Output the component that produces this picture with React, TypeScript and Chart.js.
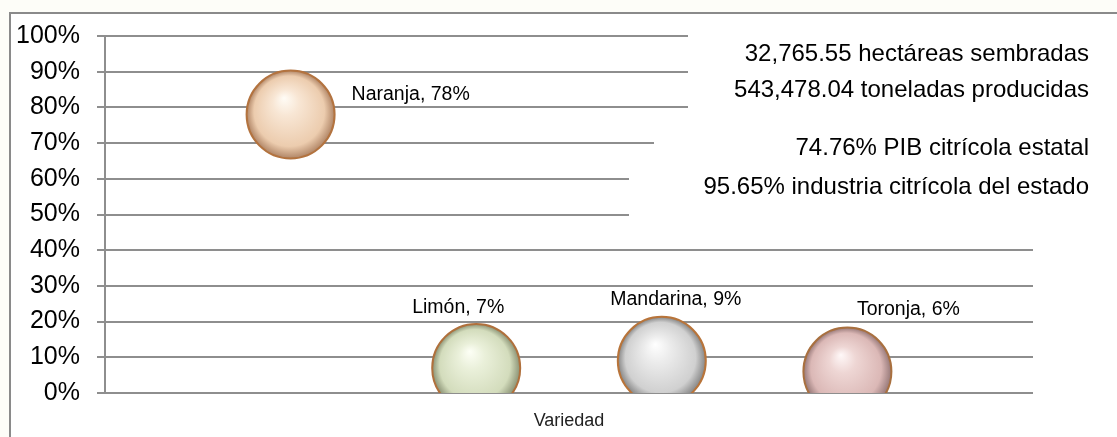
import React, { useEffect, useRef } from "react";
import { Chart, registerables } from "chart.js";

Chart.register(...registerables);

// ---- data ----
const categories = ["Naranja", "Limón", "Mandarina", "Toronja"];
const xPositions = [1, 2, 3, 4];
const shares = [78, 7, 9, 6];
const yTicks = [0, 10, 20, 30, 40, 50, 60, 70, 80, 90, 100];
const infoLines = [
  "32,765.55 hectáreas sembradas",
  "543,478.04 toneladas producidas",
  "74.76% PIB citrícola estatal",
  "95.65% industria citrícola del estado",
];
const axisTitle = "Variedad";

// ---- styles ----
const FONT = "'Liberation Sans', Arial, Helvetica, sans-serif";
const GRID = "#8e8e8e";
const sphereColors = [
  ["#fffcf6", "#f8e6d4", "#ecccae", "#b08566"],
  ["#fdfff6", "#eaf0da", "#d3dcbc", "#8a9274"],
  ["#ffffff", "#ececec", "#d0d0d0", "#858585"],
  ["#fff8f8", "#eed6d4", "#dbb8b6", "#967878"],
];
const rimColors = ["#b3733f", "#b0703c", "#b8743a", "#a9703f"];
// label offsets relative to bubble centre [dx, dy, align]
const labelOffsets: [number, number, CanvasTextAlign][] = [
  [61, -20, "left"],
  [-18, -60, "center"],
  [14, -61, "center"],
  [61, -62, "center"],
];
// white boxes of the text annotations: [x, y, w, h]
const infoBoxes = [
  [688, 28, 430, 86],
  [654, 128, 464, 34],
  [629, 166, 489, 64],
];
const infoY = [54, 90, 148, 187];

const framePlugin = {
  id: "frame",
  beforeDraw(chart: any) {
    const { ctx, width, height } = chart;
    ctx.save();
    ctx.fillStyle = "#fdfdf8";
    ctx.fillRect(0, 0, width, height);
    ctx.fillStyle = "#ffffff";
    ctx.fillRect(10, 13, width - 10, height - 13);
    ctx.strokeStyle = "#8a8a8a";
    ctx.lineWidth = 2;
    ctx.beginPath();
    ctx.moveTo(10, height);
    ctx.lineTo(10, 13);
    ctx.lineTo(width, 13);
    ctx.stroke();
    ctx.restore();
  },
};

const infoPlugin = {
  id: "info",
  beforeDatasetsDraw(chart: any) {
    const { ctx } = chart;
    ctx.save();
    ctx.fillStyle = "#ffffff";
    infoBoxes.forEach(([x, y, w, h]) => ctx.fillRect(x, y, w, h));
    ctx.fillStyle = "#000000";
    ctx.font = `24px ${FONT}`;
    ctx.textAlign = "right";
    ctx.textBaseline = "middle";
    infoLines.forEach((t, i) => ctx.fillText(t, 1089, infoY[i]));
    ctx.restore();
  },
};

const labelPlugin = {
  id: "bubbleLabels",
  afterDatasetsDraw(chart: any) {
    const { ctx } = chart;
    const meta = chart.getDatasetMeta(0);
    ctx.save();
    ctx.fillStyle = "#000000";
    ctx.font = `19.5px ${FONT}`;
    ctx.textBaseline = "middle";
    meta.data.forEach((el: any, i: number) => {
      const [dx, dy, align] = labelOffsets[i];
      ctx.textAlign = align;
      ctx.fillText(`${categories[i]}, ${shares[i]}%`, el.x + dx, el.y + dy);
    });
    ctx.restore();
  },
};

export default function App() {
  const ref = useRef<HTMLCanvasElement>(null);
  useEffect(() => {
    if (!ref.current) return;
    const chart = new Chart(ref.current, {
      type: "bubble",
      data: {
        datasets: [
          {
            label: "Variedad",
            data: xPositions.map((x, i) => ({ x, y: shares[i] })),
            radius: 44,
            borderWidth: 2,
            borderColor: rimColors,
            clip: 0,
            backgroundColor: (c: any) => {
              const chart = c.chart;
              const i = c.dataIndex;
              const col = sphereColors[i ?? 0] || sphereColors[0];
              const raw = c.raw;
              if (!raw || !chart.scales || !chart.scales.x || !chart.scales.y) return col[2];
              const cx = chart.scales.x.getPixelForValue(raw.x);
              const cy = chart.scales.y.getPixelForValue(raw.y);
              if (!isFinite(cx) || !isFinite(cy)) return col[2];
              const r = 44;
              const g = chart.ctx.createRadialGradient(
                cx - 0.15 * r, cy - 0.38 * r, 0,
                cx, cy, r
              );
              g.addColorStop(0, col[0]);
              g.addColorStop(0.3, col[1]);
              g.addColorStop(0.8, col[2]);
              g.addColorStop(1, col[3]);
              return g;
            },
          } as any,
        ],
      },
      options: {
        responsive: false,
        animation: false,
        events: [],
        layout: { autoPadding: false, padding: { top: 36, right: 84, bottom: 0, left: 0 } },
        plugins: {
          legend: { display: false },
          tooltip: { enabled: false },
        },
        scales: {
          x: {
            type: "linear",
            min: 0,
            max: 5,
            ticks: { display: false },
            grid: { display: false },
            border: { display: false },
            title: {
              display: true,
              text: axisTitle,
              color: "#222222",
              font: { family: FONT, size: 18 },
              padding: { top: 0, bottom: 5 },
            },
            afterFit: (s: any) => {
              s.height = 44;
              s.paddingLeft = 0;
              s.paddingRight = 0;
            },
          },
          y: {
            type: "linear",
            min: 0,
            max: 100,
            afterBuildTicks: (s: any) => {
              s.ticks = yTicks.map((v) => ({ value: v }));
            },
            ticks: {
              callback: (v: any) => `${v}%`,
              color: "#000000",
              font: { family: FONT, size: 25 },
              padding: 17,
            },
            grid: { color: GRID, lineWidth: 2, tickLength: 8, drawTicks: true },
            border: { display: true, color: GRID, width: 2 },
            afterFit: (s: any) => {
              s.width = 105;
              s.paddingTop = 0;
              s.paddingBottom = 0;
            },
          },
        },
      },
      plugins: [framePlugin, infoPlugin, labelPlugin],
    });
    return () => chart.destroy();
  }, []);
  return (
    <div style={{ position: "fixed", left: 0, top: 0, width: 1117, height: 437 }}>
      <canvas ref={ref} width={1117} height={437} />
    </div>
  );
}
